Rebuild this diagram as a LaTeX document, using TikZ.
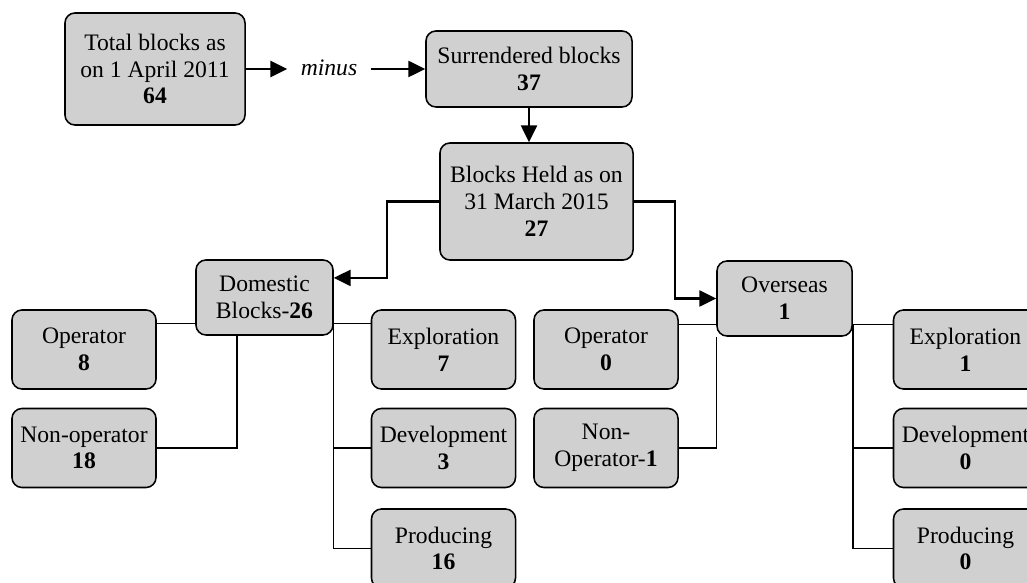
\documentclass[tikz,border=0pt]{standalone}
\usepackage{fontspec}
\setmainfont{Liberation Serif}
\usetikzlibrary{arrows.meta}
\definecolor{BXFill}{HTML}{D0D0D0}
\tikzset{
  blockbox/.style={draw=black,fill=BXFill,line width=1.1pt,rounded corners=0.25cm,
    align=center,inner sep=1pt,font=\fontsize{16.8}{19}\selectfont},
  leafbox/.style={blockbox,minimum width=3.6cm,minimum height=1.975cm},
  flowarrow/.style={line width=1.5pt,-{Triangle[length=0.42cm,width=0.4cm]}},
  treeline/.style={line width=1pt}
}
\begin{document}
\begin{tikzpicture}[x=0.025cm,y=-0.025cm]
\path[use as bounding box] (0,0) rectangle (1027,583);
\node[blockbox,minimum width=4.5cm,minimum height=2.8cm] (total) at (155,69) {Total blocks as\\on 1 April 2011\\\textbf{64}};
\node[font=\fontsize{16.8}{19}\selectfont,inner xsep=0.33cm] (minus) at (329,68) {\textit{minus}};
\node[blockbox,minimum width=5.15cm,minimum height=1.9cm] (surr) at (529,69) {Surrendered blocks\\\textbf{37}};
\node[blockbox,minimum width=4.825cm,minimum height=2.925cm] (held) at (536.5,201.5) {Blocks Held as on\\31 March 2015\\\textbf{27}};
\node[blockbox,minimum width=3.425cm,minimum height=1.875cm] (dom) at (264.5,297.5) {Domestic\\Blocks-\textbf{26}};
\node[blockbox,minimum width=3.375cm,minimum height=1.875cm] (over) at (784.5,298.5) {Overseas\\\textbf{1}};
\node[leafbox] (op8) at (84,349.5) {Operator\\\textbf{8}};
\node[leafbox] (nonop18) at (84,448) {Non-operator\\\textbf{18}};
\node[leafbox] (exp7) at (443.5,349.5) {Exploration\\\textbf{7}};
\node[leafbox] (dev3) at (443.5,448) {Development\\\textbf{3}};
\node[leafbox] (prod16) at (443.5,548.5) {Producing\\\textbf{16}};
\node[leafbox] (op0) at (606,349.5) {Operator\\\textbf{0}};
\node[leafbox] (nonop1) at (606,448) {Non-\\Operator-\textbf{1}};
\node[leafbox] (exp1) at (965.5,349.5) {Exploration\\\textbf{1}};
\node[leafbox] (dev0) at (965.5,448) {Development\\\textbf{0}};
\node[leafbox] (prod0) at (965.5,548.5) {Producing\\\textbf{0}};
\draw[flowarrow] (total.east) -- (total.east -| minus.west);
\draw[flowarrow] (minus.east |- surr.west) -- (surr.west);
\draw[flowarrow] (surr.south) -- (surr.south |- held.north);
\draw[flowarrow] (held.west) -- ++(-52,0) |- ([yshift=0.49cm]dom.east);
\draw[flowarrow] (held.east) -- ++(41,0) |- (over.west);
\coordinate (dl) at ([yshift=0.3cm]dom.south west);
\coordinate (dr) at ([yshift=0.3cm]dom.south east);
\draw[treeline] (dl) -- (dl -| op8.east);
\draw[treeline] ([xshift=-0.69cm]dom.south) |- (nonop18.east);
\draw[treeline] (dr) -- (dr -| exp7.west);
\draw[treeline] (dr) |- (dev3.west);
\draw[treeline] (dr) |- (prod16.west);
\coordinate (ol) at ([yshift=0.3cm]over.south west);
\coordinate (or) at ([yshift=0.3cm]over.south east);
\draw[treeline] (ol) -- (ol -| op0.east);
\draw[treeline] (over.south west) |- (nonop1.east);
\draw[treeline] (or) -- (or -| exp1.west);
\draw[treeline] (or) |- (dev0.west);
\draw[treeline] (or) |- (prod0.west);
\end{tikzpicture}
\end{document}
